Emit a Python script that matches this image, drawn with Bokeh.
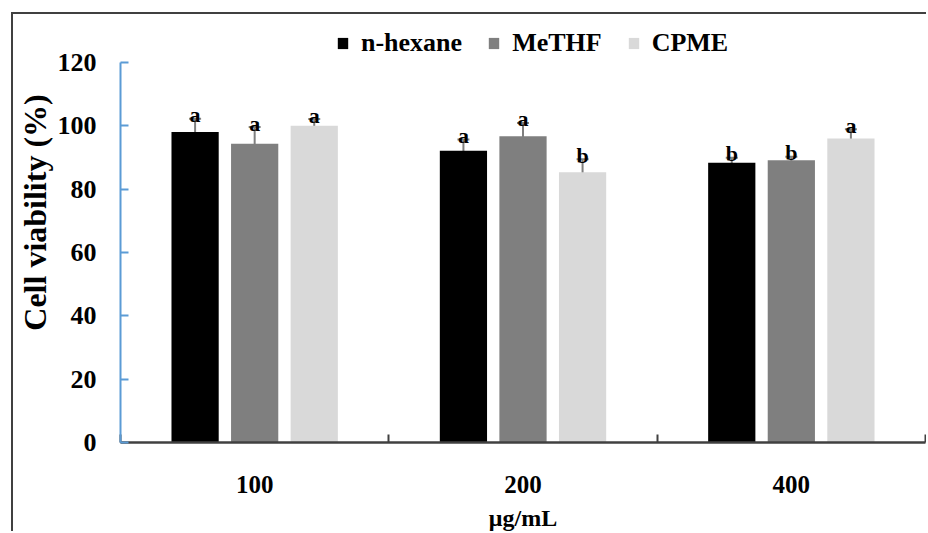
from bokeh.plotting import figure
from bokeh.models import (Range1d, FixedTicker, Whisker, TeeHead, ColumnDataSource,
                          LinearAxis)
from bokeh.core.properties import value
from bokeh.embed import file_html
from bokeh.resources import INLINE

# ---- data ----
doses = ["100", "200", "400"]
solvents = ["n-hexane", "MeTHF", "CPME"]
hexane = [98.0, 92.1, 88.3]
methf = [94.3, 96.7, 89.1]
cpme = [100.0, 85.3, 96.0]
hexane_plus = [4.2, 3.6, 1.6]
methf_plus = [5.3, 4.2, 1.1]
cpme_plus = [2.1, 4.1, 2.9]
hexane_minus = [1.5, 0.9, 1.3]
methf_minus = [1.0, 1.2, 0.8]
cpme_minus = [1.2, 0.9, 1.4]
hexane_letters = ["a", "a", "b"]
methf_letters = ["a", "a", "b"]
cpme_letters = ["a", "b", "a"]
y_ticks = [0, 20, 40, 60, 80, 100, 120]
y_title = "Cell viability (%)"
x_title = "μg/mL"

series = [
    (solvents[0], hexane, hexane_plus, hexane_minus, hexane_letters, "#000000"),
    (solvents[1], methf, methf_plus, methf_minus, methf_letters, "#7f7f7f"),
    (solvents[2], cpme, cpme_plus, cpme_minus, cpme_letters, "#d9d9d9"),
]
offsets = [-0.222, 0.0, 0.222]
BAR_W = 0.176
FONT = "Liberation Serif"
BORDER = "2px solid #404040"

p = figure(width=915, height=519, output_backend="svg", toolbar_location=None,
           x_range=Range1d(0, len(doses)), y_range=Range1d(0, 132.6),
           min_border_left=106, min_border_right=3, min_border_top=8, min_border_bottom=91)
p.styles = {"margin-left": "11px", "margin-top": "12px",
            "border-left": BORDER, "border-top": BORDER}
p.outline_line_color = None
p.xgrid.visible = False
p.ygrid.visible = False

for (name, vals, plus, minus, letters, color), off in zip(series, offsets):
    xs = [i + 0.5 + off for i in range(len(doses))]
    src = ColumnDataSource(dict(
        x=xs, top=vals,
        upper=[v + e for v, e in zip(vals, plus)],
        lower=[v - e for v, e in zip(vals, minus)],
        letter=letters))
    p.vbar(x="x", top="top", width=BAR_W, source=src, fill_color=color,
           line_color=None, legend_label=name)
    w = Whisker(base="x", upper="upper", lower="lower", source=src,
                line_color="#7f7f7f", line_width=2,
                upper_head=TeeHead(size=12, line_color="#7f7f7f", line_width=2),
                lower_head=TeeHead(size=12, line_color="#7f7f7f", line_width=2))
    p.add_layout(w)
    p.text(x="x", y="upper", text="letter", source=src, text_align="center",
           text_baseline="alphabetic", y_offset=-4, text_font=value(FONT),
           text_font_style="bold", text_font_size="22px", text_color="#000000")

# x axis
xa = p.xaxis[0]
xa.ticker = FixedTicker(ticks=[i + 0.5 for i in range(len(doses))],
                        minor_ticks=list(range(len(doses) + 1)))
xa.major_label_overrides = {i + 0.5: d for i, d in enumerate(doses)}
xa.major_tick_line_color = None
xa.major_tick_out = 0
xa.minor_tick_in = 8
xa.minor_tick_out = 0
xa.minor_tick_line_color = "#404040"
xa.minor_tick_line_width = 2
xa.axis_line_color = "#404040"
xa.axis_line_width = 2.5
xa.major_label_standoff = 33
xa.major_label_text_font = FONT
xa.major_label_text_font_style = "bold"
xa.major_label_text_font_size = "25px"
xa.major_label_text_color = "#000000"

# y axis
ya = p.yaxis[0]
ya.ticker = FixedTicker(ticks=y_ticks)
ya.bounds = (0, 120)
ya.major_tick_in = 8
ya.major_tick_out = 0
ya.major_tick_line_color = "#5b9bd5"
ya.major_tick_line_width = 2
ya.minor_tick_line_color = None
ya.axis_line_color = "#5b9bd5"
ya.axis_line_width = 2
ya.major_label_standoff = 24
ya.major_label_text_font = FONT
ya.major_label_text_font_style = "bold"
ya.major_label_text_font_size = "26px"
ya.major_label_text_color = "#000000"


def title_axis(text, size, standoff):
    return LinearAxis(ticker=FixedTicker(ticks=[]), axis_label=text,
                      axis_line_color=None, major_tick_line_color=None,
                      minor_tick_line_color=None, major_tick_out=0, minor_tick_out=0,
                      major_tick_in=0, minor_tick_in=0, major_label_standoff=0,
                      axis_label_standoff=standoff, axis_label_text_font=FONT,
                      axis_label_text_font_style="bold", axis_label_text_font_size=size,
                      axis_label_text_color="#000000")


# leading no-break spaces nudge the rotated title upward like in the original
p.add_layout(title_axis("\u00a0" * 5 + y_title, "32px", 2), "left")
p.add_layout(title_axis(x_title, "24px", 9), "below")

lg = p.legend[0]
lg.orientation = "horizontal"
lg.location = (216, 384)
lg.glyph_width = 13
lg.glyph_height = 14
lg.label_standoff = 12
lg.spacing = 25
lg.padding = 0
lg.margin = 0
lg.border_line_color = None
lg.background_fill_alpha = 0
lg.label_text_font = FONT
lg.label_text_font_style = "bold"
lg.label_text_font_size = "26px"
lg.label_text_color = "#000000"

open("out.html", "w").write(file_html(p, INLINE))
